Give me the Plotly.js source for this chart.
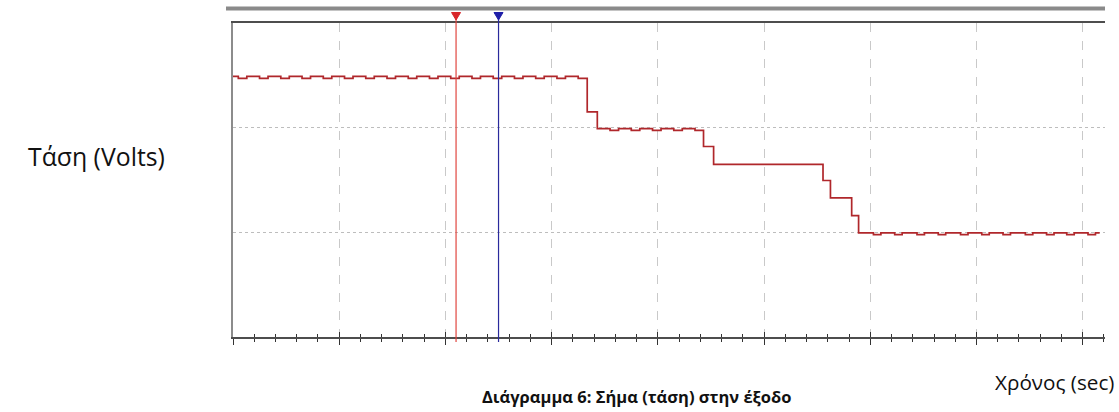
<!DOCTYPE html>
<html>
<head>
<meta charset="utf-8">
<script src="https://cdn.plot.ly/plotly-3.0.1.min.js"></script>
<style>
  html, body { margin: 0; padding: 0; background: #ffffff; }
  #chart { width: 1119px; height: 412px; }
</style>
</head>
<body>
<div id="chart"></div>
<script>
// Output voltage recorded on the scope, in screen divisions (time) and volts.
// Points are step changes: each value holds until the next time stamp.
const time = [
  0, 0.05, 0.13, 0.25, 0.33, 0.45, 0.53, 0.65, 0.73, 0.85, 0.93,
  1.05, 1.13, 1.25, 1.33, 1.45, 1.53, 1.65, 1.73, 1.85, 1.93,
  2.05, 2.13, 2.25, 2.33, 2.45, 2.53, 2.65, 2.73, 2.85, 2.93,
  3.05, 3.13, 3.25, 3.335, 3.43,
  3.55, 3.63, 3.75, 3.83, 3.95, 4.03, 4.15, 4.23, 4.35,
  4.43, 4.525, 5.555, 5.625, 5.825, 5.89,
  6.03, 6.10, 6.23, 6.30, 6.44, 6.51, 6.64, 6.71, 6.85, 6.92,
  7.05, 7.12, 7.25, 7.32, 7.46, 7.53, 7.66, 7.73, 7.85, 7.92,
  8.05, 8.12, 8.16
];
const volts = [
  2.49, 2.47, 2.49, 2.47, 2.49, 2.47, 2.49, 2.47, 2.49, 2.47, 2.49,
  2.47, 2.49, 2.47, 2.49, 2.47, 2.49, 2.47, 2.49, 2.47, 2.49,
  2.47, 2.49, 2.47, 2.49, 2.47, 2.49, 2.47, 2.49, 2.47, 2.49,
  2.47, 2.49, 2.47, 2.15, 1.99,
  1.975, 1.99, 1.975, 1.99, 1.975, 1.99, 1.975, 1.99, 1.975,
  1.82, 1.65, 1.495, 1.33, 1.16, 0.995,
  0.978, 0.995, 0.978, 0.995, 0.978, 0.995, 0.978, 0.995, 0.978, 0.995,
  0.978, 0.995, 0.978, 0.995, 0.978, 0.995, 0.978, 0.995, 0.978, 0.995,
  0.978, 0.995, 0.995
];

// Measurement cursors (time positions) and their colours.
const cursorTimes = [2.10, 2.50];
const cursorColors = ['#e0453f', '#2a2a9c'];
const markerColors = ['#d8262a', '#1e1ea8'];

// Axis extents in divisions.
const timeRange = [0, 8.21];
const voltRange = [0, 3];

// Texts.
const yLabel = 'Τάση (Volts)';
const xLabel = 'Χρόνος (sec)';
const caption = 'Διάγραμμα 6: Σήμα (τάση) στην έξοδο';

// Page geometry.
const W = 1119, H = 412;
const M = { l: 233, r: 14, t: 23, b: 75 };
const plotW = W - M.l - M.r;
const plotH = H - M.t - M.b;
const px2paperX = (px) => (px - M.l) / plotW;
const px2paperY = (py) => (H - M.b - py) / plotH;

const signal = {
  x: time,
  y: volts,
  type: 'scatter',
  mode: 'lines',
  line: { color: '#b0272b', width: 1.7, shape: 'hv' },
  hoverinfo: 'skip',
  showlegend: false
};

// Second, overlaid axis only carries the inward half of the tick marks.
const tickCarrier = {
  x: [timeRange[0]], y: [voltRange[0]],
  xaxis: 'x2', yaxis: 'y',
  type: 'scatter', mode: 'none',
  hoverinfo: 'skip', showlegend: false
};

const shapes = [];

// Grey bar above the frame.
shapes.push({
  type: 'rect', xref: 'paper', yref: 'paper',
  x0: px2paperX(226), x1: px2paperX(1105),
  y0: px2paperY(10.5), y1: px2paperY(6.5),
  fillcolor: '#8a8a8a', line: { width: 0 }, layer: 'above'
});

// Cursor lines with their triangle markers.
cursorTimes.forEach((t, i) => {
  shapes.push({
    type: 'line', xref: 'x', yref: 'paper',
    x0: t, x1: t,
    y0: px2paperY(342), y1: px2paperY(18),
    line: { color: cursorColors[i], width: 1.2 }, layer: 'above'
  });
  const half = 4.5 / (plotW / (timeRange[1] - timeRange[0]));
  const yTop = px2paperY(12.5), yTip = px2paperY(20);
  shapes.push({
    type: 'path', xref: 'x', yref: 'paper',
    path: `M ${t - half} ${yTop} L ${t + half} ${yTop} L ${t} ${yTip} Z`,
    fillcolor: markerColors[i], line: { color: markerColors[i], width: 1 },
    layer: 'above'
  });
});

const annotations = [
  {
    text: yLabel, xref: 'paper', yref: 'paper',
    x: px2paperX(26), y: px2paperY(156), xanchor: 'left', yanchor: 'middle',
    showarrow: false,
    font: { family: 'Open Sans, sans-serif', size: 24.8, color: '#111111' }
  },
  {
    text: xLabel, xref: 'paper', yref: 'paper',
    x: px2paperX(1116), y: px2paperY(382), xanchor: 'right', yanchor: 'middle',
    showarrow: false,
    font: { family: 'Open Sans, sans-serif', size: 20.7, color: '#111111' }
  },
  {
    text: '<b>' + caption + '</b>', xref: 'paper', yref: 'paper',
    x: px2paperX(636), y: px2paperY(396), xanchor: 'center', yanchor: 'middle',
    showarrow: false,
    font: { family: 'Open Sans, sans-serif', size: 16.5, color: '#111111' }
  }
];

const layout = {
  width: W, height: H,
  margin: M,
  paper_bgcolor: '#ffffff',
  plot_bgcolor: '#ffffff',
  showlegend: false,
  xaxis: {
    range: timeRange, tick0: 0, dtick: 1,
    showticklabels: false,
    ticks: 'outside', ticklen: 6, tickwidth: 1, tickcolor: '#333333',
    minor: { dtick: 0.2, ticks: 'outside', ticklen: 3, tickwidth: 1, tickcolor: '#333333', showgrid: false },
    showgrid: true, gridcolor: '#c9c9c9', gridwidth: 1, griddash: 'dash',
    showline: true, linecolor: '#4d4d4d', linewidth: 2, mirror: true,
    zeroline: false, fixedrange: true
  },
  xaxis2: {
    overlaying: 'x', anchor: 'y', side: 'bottom',
    range: timeRange, tick0: 0, dtick: 1,
    showticklabels: false,
    ticks: 'inside', ticklen: 5, tickwidth: 1, tickcolor: '#333333',
    minor: { dtick: 0.2, ticks: 'inside', ticklen: 3, tickwidth: 1, tickcolor: '#333333', showgrid: false },
    showgrid: false, showline: false, zeroline: false, fixedrange: true
  },
  yaxis: {
    range: voltRange, tick0: 0, dtick: 1,
    showticklabels: false, ticks: '',
    showgrid: true, gridcolor: '#bdbdbd', gridwidth: 1, griddash: 'dot',
    showline: true, linecolor: '#8c8c8c', linewidth: 2, mirror: false,
    zeroline: false, fixedrange: true
  },
  shapes: shapes,
  annotations: annotations
};

Plotly.newPlot('chart', [signal, tickCarrier], layout, { staticPlot: true, displayModeBar: false });
</script>
</body>
</html>
